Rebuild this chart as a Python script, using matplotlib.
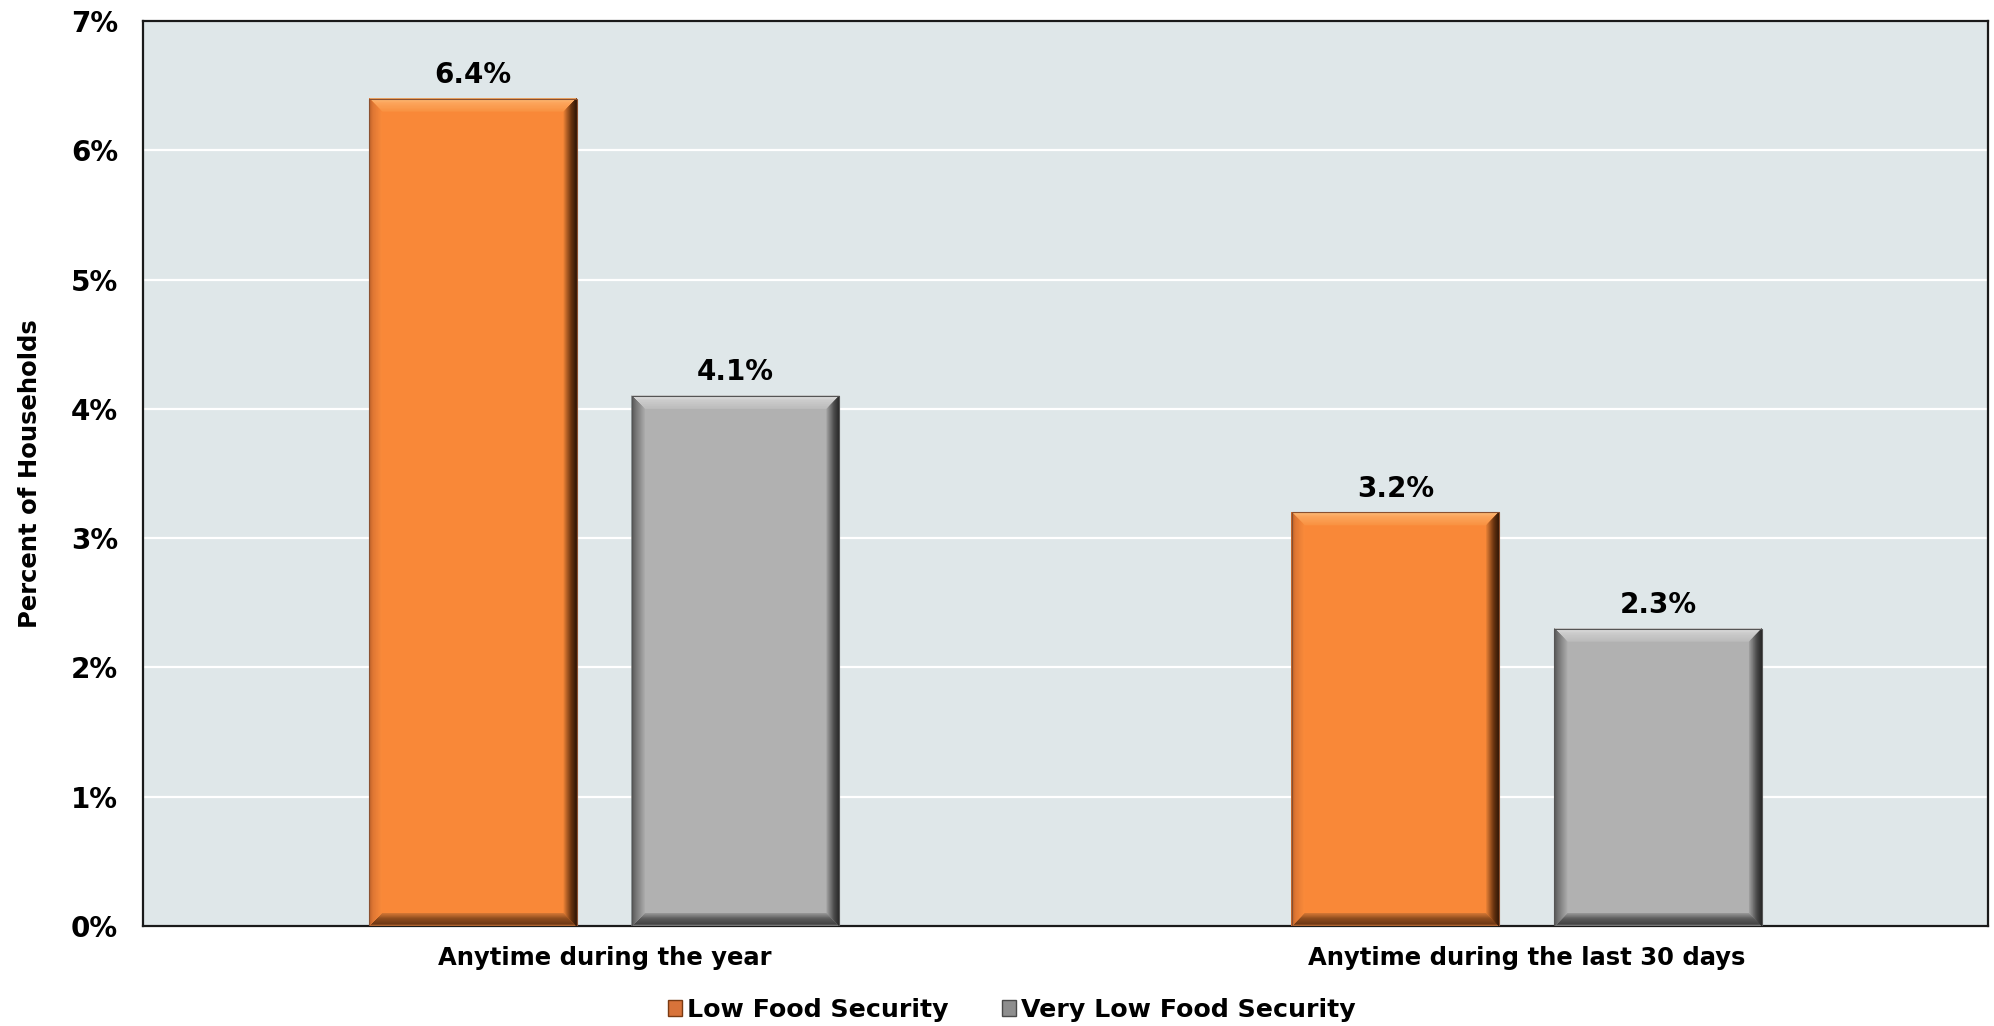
import matplotlib
matplotlib.use("Agg")
import matplotlib.pyplot as plt
from matplotlib.patches import Polygon, Patch
from matplotlib.colors import to_rgb
import numpy as np

# ---- data ----
categories = ["Anytime during the year", "Anytime during the last 30 days"]
series_names = ["Low Food Security", "Very Low Food Security"]
low_food_security = [6.4, 3.2]
very_low_food_security = [4.1, 2.3]
y_ticks = [0, 1, 2, 3, 4, 5, 6, 7]
y_tick_labels = ["0%", "1%", "2%", "3%", "4%", "5%", "6%", "7%"]

# ---- styling ----
FIG_W, FIG_H, DPI = 1994, 1026, 100
BG = "#DFE7E9"
BASE = {"orange": "#F98838", "gray": "#B1B1B1"}
BEVEL = {
    "orange": {
        "top": [(0.0, "#B0683A"), (0.12, "#FDB872"), (0.35, "#FCA55C"), (1.0, "#F99343")],
        "right": [(0.0, "#2A1405"), (0.45, "#6A3410"), (1.0, "#E57E34")],
        "left": [(0.0, "#B85E26"), (0.35, "#E07834"), (1.0, "#F98A3A")],
        "bottom": [(0.0, "#E08545"), (0.18, "#6E3814"), (0.6, "#8E4C1E"), (1.0, "#D27634")],
    },
    "gray": {
        "top": [(0.0, "#848484"), (0.12, "#DEDEDE"), (0.35, "#CDCDCD"), (1.0, "#BCBCBC")],
        "right": [(0.0, "#222222"), (0.45, "#4C4C4C"), (1.0, "#9E9E9E")],
        "left": [(0.0, "#555555"), (0.35, "#767676"), (1.0, "#AAAAAA")],
        "bottom": [(0.0, "#A0A0A0"), (0.18, "#444444"), (0.6, "#5C5C5C"), (1.0, "#969696")],
    },
}
EDGE = {"orange": "#8A5030", "gray": "#555555"}

plt.rcParams["font.family"] = ["DejaVu Sans"]
plt.rcParams["font.weight"] = "bold"

fig = plt.figure(figsize=(FIG_W / DPI, FIG_H / DPI), dpi=DPI)
ax = fig.add_axes([143 / FIG_W, 1 - 926 / FIG_H, 1845 / FIG_W, 905 / FIG_H])
ax.set_facecolor(BG)
ax.set_xlim(-0.5, 1.5)
ax.set_ylim(0, 7)

x = np.arange(len(categories))
width = 0.225
offset = 0.1425


def profile(stops, t):
    ts = [s[0] for s in stops]
    cs = np.array([to_rgb(s[1]) for s in stops])
    return tuple(np.interp(t, ts, cs[:, k]) for k in range(3))


def bevel(rect, pal, b=13.0, n=16):
    x0, y0 = rect.get_x(), rect.get_y()
    x1, y1 = x0 + rect.get_width(), y0 + rect.get_height()
    X0, Y0 = ax.transData.transform((x0, y0))
    X1, Y1 = ax.transData.transform((x1, y1))
    inv = ax.transData.inverted()

    def shapes(side, d):
        if side == "top":
            return [(X0, Y1), (X1, Y1), (X1 - d, Y1 - d), (X0 + d, Y1 - d)]
        if side == "bottom":
            return [(X0, Y0), (X1, Y0), (X1 - d, Y0 + d), (X0 + d, Y0 + d)]
        if side == "left":
            return [(X0, Y0), (X0, Y1), (X0 + d, Y1 - d), (X0 + d, Y0 + d)]
        return [(X1, Y0), (X1, Y1), (X1 - d, Y1 - d), (X1 - d, Y0 + d)]

    for side in ["top", "bottom", "left", "right"]:
        for i in range(n, 0, -1):
            d = b * i / n
            col = profile(pal[side], i / n)
            ax.add_patch(Polygon(inv.transform(shapes(side, d)), closed=True,
                                 facecolor=col, edgecolor="none", zorder=4))


series = [(low_food_security, -offset, "orange", series_names[0]),
          (very_low_food_security, offset, "gray", series_names[1])]

for vals, off, key, name in series:
    bars = ax.bar(x + off, vals, width, color=BASE[key], edgecolor="none", zorder=3, label=name)
    for rect in bars:
        bevel(rect, BEVEL[key])
    ax.bar(x + off, vals, width, fill=False, edgecolor=EDGE[key], linewidth=0.8, zorder=5)
    for xi, v in zip(x + off, vals):
        ax.annotate(f"{v:.1f}%", (xi, v), xytext=(0, 7), textcoords="offset points",
                    ha="center", va="bottom", fontsize=20, fontweight="bold", color="black")

# axes, grid, ticks
ax.set_yticks(y_ticks)
ax.set_yticklabels(y_tick_labels, fontsize=20, fontweight="bold")
ax.set_xticks(x)
ax.set_xticklabels(categories, fontsize=17.5, fontweight="bold")
ax.tick_params(axis="both", length=0)
ax.tick_params(axis="y", pad=18)
ax.tick_params(axis="x", pad=14.5)
ax.yaxis.grid(True, color="white", linewidth=1.6)
ax.xaxis.grid(False)
ax.set_axisbelow(True)
for sp in ax.spines.values():
    sp.set_color("#1A1A1A")
    sp.set_linewidth(1.6)

ax.set_ylabel("Percent of Households", fontsize=17.5, fontweight="bold")
ax.yaxis.set_label_coords(-0.0548, 0.5)

handles = [Patch(facecolor="#D8733A", edgecolor="#7A3A12", linewidth=1.0),
           Patch(facecolor="#8E8E8E", edgecolor="#4A4A4A", linewidth=1.0)]
fig.legend(handles, series_names, loc="center", bbox_to_anchor=(1012 / FIG_W, 1 - 1010 / FIG_H),
           ncol=2, frameon=False, prop={"size": 18.2, "weight": "bold"},
           handlelength=0.55, handleheight=0.55, handletextpad=0.2, columnspacing=2.1,
           borderpad=0)

fig.savefig("out.png", dpi=DPI)
